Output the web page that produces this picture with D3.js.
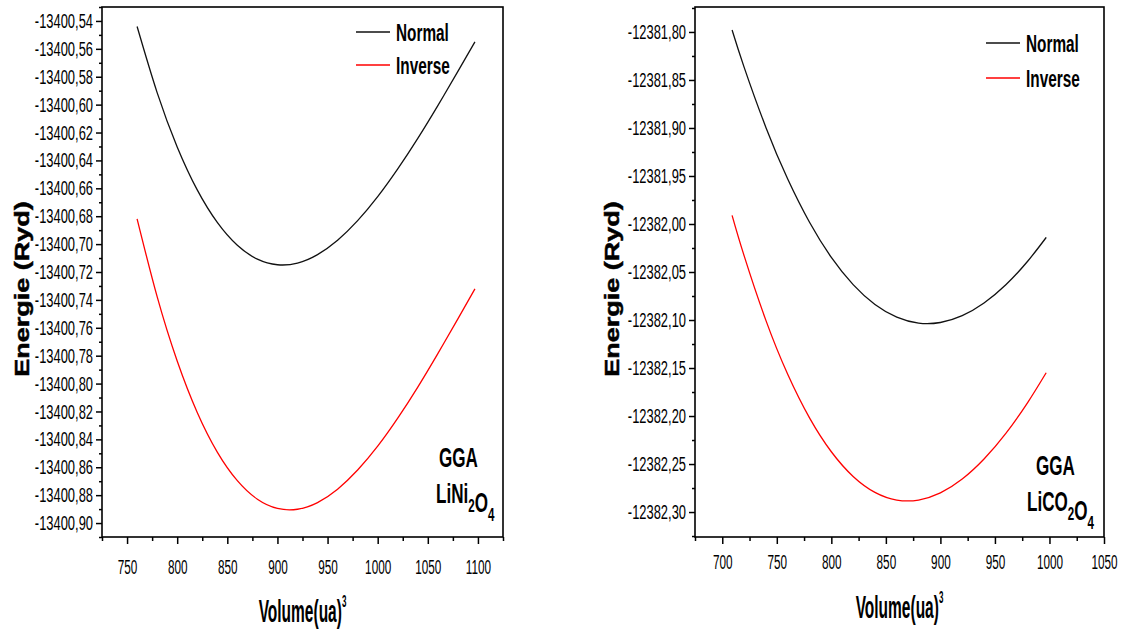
<!DOCTYPE html>
<html>
<head>
<meta charset="utf-8">
<script src="https://cdn.jsdelivr.net/npm/d3@7"></script>
<style>
  body { margin: 0; background: #fff; }
  svg { display: block; }
</style>
</head>
<body>
<svg id="chart" width="1121" height="629"></svg>
<script>
// ---- LiNi2O4 (GGA) : energy vs volume ----
const volumeLiNi = [760, 780, 800, 820, 840, 860, 880, 900, 920, 940, 960, 980, 1000, 1020, 1040, 1060, 1080, 1097];
const normalLiNi = [-13400.5440, -13400.5914, -13400.6303, -13400.6611, -13400.6844, -13400.7008, -13400.7108, -13400.7148,
                    -13400.7136, -13400.7075, -13400.6972, -13400.6832, -13400.6660, -13400.6461, -13400.6242, -13400.6007,
                    -13400.5762, -13400.5550];
const inverseLiNi = [-13400.6819, -13400.7377, -13400.7838, -13400.8207, -13400.8491, -13400.8696, -13400.8829, -13400.8895,
                     -13400.8901, -13400.8853, -13400.8757, -13400.8620, -13400.8449, -13400.8248, -13400.8025, -13400.7785,
                     -13400.7536, -13400.7321];
const xTicksLiNi = [750, 800, 850, 900, 950, 1000, 1050, 1100];
const yTicksLiNi = [-13400.54, -13400.56, -13400.58, -13400.60, -13400.62, -13400.64, -13400.66, -13400.68, -13400.70,
                    -13400.72, -13400.74, -13400.76, -13400.78, -13400.80, -13400.82, -13400.84, -13400.86, -13400.88, -13400.90];

// ---- LiCO2O4 (GGA) : energy vs volume ----
const volumeLiCo = [709, 720, 740, 760, 780, 800, 820, 840, 860, 880, 900, 920, 940, 960, 980, 997];
const normalLiCo = [-12381.7980, -12381.8366, -12381.8994, -12381.9532, -12381.9982, -12382.0348, -12382.0632, -12382.0839,
                    -12382.0971, -12382.1033, -12382.1026, -12382.0955, -12382.0823, -12382.0633, -12382.0388, -12382.0140];
const inverseLiCo = [-12381.9910, -12382.0330, -12382.1004, -12382.1565, -12382.2019, -12382.2372, -12382.2629, -12382.2795,
                     -12382.2875, -12382.2875, -12382.2801, -12382.2657, -12382.2448, -12382.2181, -12382.1860, -12382.1549];
const xTicksLiCo = [700, 750, 800, 850, 900, 950, 1000, 1050];
const yTicksLiCo = [-12381.80, -12381.85, -12381.90, -12381.95, -12382.00, -12382.05, -12382.10, -12382.15, -12382.20,
                    -12382.25, -12382.30];

const seriesNames = ["Normal", "Inverse"];
const seriesColors = ["#111111", "#ff0000"];

const FONT = "'Liberation Sans', Arial, sans-serif";
const svg = d3.select("#chart");

// decimal comma, plain hyphen minus
const fmt = d3.formatLocale({ decimal: ",", thousands: "", grouping: [3], currency: ["", ""], minus: "-" }).format(".2f");

// narrow text: horizontal squeeze around the anchor point
function squeezedText(parent, x, y, sx, opts) {
  return parent.append("text")
    .attr("transform", `translate(${x},${y}) scale(${sx},1)`)
    .attr("font-family", FONT)
    .attr("font-size", opts.size)
    .attr("font-weight", opts.weight || "normal")
    .attr("text-anchor", opts.anchor || "start")
    .attr("fill", "#000");
}

function panel(p) {
  const g = svg.append("g");
  const x = d3.scaleLinear().domain(p.xDomain).range([p.left, p.right]);
  const y = d3.scaleLinear().domain(p.yDomain).range([p.bottom, p.top]);

  // minor ticks halfway between the labelled ones
  const xStep = p.xTicks[1] - p.xTicks[0];
  const yStep = p.yTicks[1] - p.yTicks[0];
  const xMinor = [p.xTicks[0] - xStep / 2, ...p.xTicks.map(v => v + xStep / 2)]
    .filter(v => v >= p.xDomain[0] - 1e-6 && v <= p.xDomain[1] + 1e-6);
  const yMinor = [p.yTicks[0] - yStep / 2, ...p.yTicks.map(v => v + yStep / 2)]
    .filter(v => v >= p.yDomain[0] - 1e-6 && v <= p.yDomain[1] + 1e-6);

  const styleTicks = s => {
    s.select(".domain").remove();
    s.selectAll(".tick line").attr("stroke", "#000").attr("stroke-width", 1.5);
  };

  // y axis
  g.append("g").attr("transform", `translate(${p.left},0)`)
    .call(d3.axisLeft(y).tickValues(yMinor).tickSize(3).tickFormat(""))
    .call(styleTicks);
  const ya = g.append("g").attr("transform", `translate(${p.left},0)`)
    .call(d3.axisLeft(y).tickValues(p.yTicks).tickSize(6).tickPadding(3).tickFormat(fmt))
    .call(styleTicks)
    .attr("font-family", FONT).attr("font-size", 20.5);
  ya.selectAll(".tick text").attr("fill", "#000").each(function () {
    const t = d3.select(this);
    t.attr("x", +t.attr("x") / p.sxY).attr("transform", `scale(${p.sxY},1)`);
  });

  // x axis
  g.append("g").attr("transform", `translate(0,${p.bottom})`)
    .call(d3.axisBottom(x).tickValues(xMinor).tickSize(4).tickFormat(""))
    .call(styleTicks);
  const xa = g.append("g").attr("transform", `translate(0,${p.bottom})`)
    .call(d3.axisBottom(x).tickValues(p.xTicks).tickSize(7).tickFormat(d3.format("d")))
    .call(styleTicks)
    .attr("font-family", FONT).attr("font-size", 21);
  xa.selectAll(".tick text").attr("fill", "#000")
    .attr("y", p.xLabelY).attr("dy", 0)
    .attr("transform", `scale(${p.sxX},1)`);

  // frame
  g.append("rect")
    .attr("x", p.left).attr("y", p.top)
    .attr("width", p.right - p.left).attr("height", p.bottom - p.top)
    .attr("fill", "none").attr("stroke", "#000").attr("stroke-width", 1.6);

  // curves
  const line = d3.line().x(d => x(d[0])).y(d => y(d[1])).curve(d3.curveNatural);
  p.series.forEach((vals, i) => {
    g.append("path")
      .datum(d3.zip(p.volume, vals))
      .attr("d", line)
      .attr("fill", "none")
      .attr("stroke", seriesColors[i])
      .attr("stroke-width", 1.3);
  });

  // legend
  seriesNames.forEach((name, i) => {
    const ly = p.legend.y + i * p.legend.gap;
    g.append("line")
      .attr("x1", p.legend.x).attr("x2", p.legend.x + 34)
      .attr("y1", ly).attr("y2", ly)
      .attr("stroke", seriesColors[i]).attr("stroke-width", 1.3);
    squeezedText(g, p.legend.x + 40, ly + 8.5, 0.64, { size: 24, weight: "bold" }).text(name);
  });

  // annotation
  squeezedText(g, p.note.x, p.note.y, 0.61, { size: 28, weight: "bold" }).text("GGA");
  const f = squeezedText(g, p.note.x2, p.note.y + 36, 0.61, { size: 28, weight: "bold" });
  p.formula.forEach(([txt, sub]) => {
    f.append("tspan").text(txt);
    f.append("tspan").attr("font-size", 19).attr("dy", 9).text(sub);
    f.append("tspan").attr("dy", -9).text("");
  });

  // axis titles
  g.append("text")
    .attr("transform", `translate(${p.yTitleX},${p.yTitleY}) scale(0.74,1) rotate(-90)`)
    .attr("font-family", FONT).attr("font-size", 27).attr("font-weight", "bold")
    .attr("stroke", "#000").attr("stroke-width", 0.6)
    .attr("text-anchor", "middle").attr("fill", "#000")
    .attr("dy", "0.35em")
    .text("Energie (Ryd)");

  const xt = squeezedText(g, (p.left + p.right) / 2, p.xTitleY, 0.5, { size: 31, weight: "bold", anchor: "middle" });
  xt.append("tspan").text("Volume(ua)");
  xt.append("tspan").attr("font-size", 16).attr("dy", -15).text("3");
}

panel({
  left: 102, right: 503, top: 7, bottom: 537,
  xDomain: [725, 1125], yDomain: [-13400.91, -13400.53],
  xTicks: xTicksLiNi, yTicks: yTicksLiNi,
  volume: volumeLiNi, series: [normalLiNi, inverseLiNi],
  sxY: 0.63, sxX: 0.56, xLabelY: 37,
  legend: { x: 356, y: 32, gap: 33 },
  note: { x: 439, x2: 436, y: 467 },
  formula: [["LiNi", "2"], ["O", "4"]],
  yTitleX: 22, yTitleY: 289, xTitleY: 622
});

panel({
  left: 695, right: 1104, top: 7, bottom: 537,
  xDomain: [675, 1050], yDomain: [-12382.326, -12381.774],
  xTicks: xTicksLiCo, yTicks: yTicksLiCo,
  volume: volumeLiCo, series: [normalLiCo, inverseLiCo],
  sxY: 0.63, sxX: 0.56, xLabelY: 32,
  legend: { x: 986, y: 43, gap: 35 },
  note: { x: 1036, x2: 1027, y: 475 },
  formula: [["LiCO", "2"], ["O", "4"]],
  yTitleX: 612, yTitleY: 289, xTitleY: 618
});
</script>
</body>
</html>
